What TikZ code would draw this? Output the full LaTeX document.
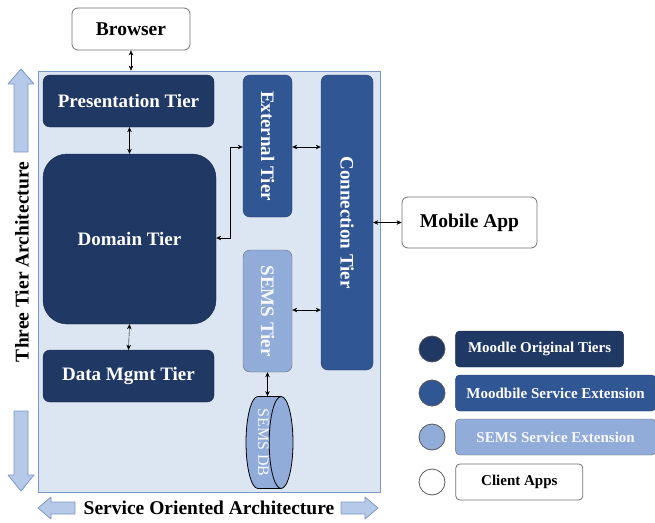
\documentclass[tikz,border=0pt]{standalone}
\usepackage{fontspec}
\setmainfont{Liberation Serif}
\usetikzlibrary{positioning}
\usetikzlibrary{shapes.geometric}
\usetikzlibrary{arrows.meta}

\definecolor{navy}{RGB}{32,56,100}
\definecolor{midblue}{RGB}{48,86,148}
\definecolor{lightblue}{RGB}{146,172,218}
\definecolor{panelbg}{RGB}{220,230,242}
\definecolor{panelline}{RGB}{122,152,200}
\definecolor{arrowbg}{RGB}{182,201,232}

\tikzset{
  tier/.style={draw=navy!70!black, fill=navy, text=white, rounded corners=7pt,
    font=\bfseries\fontsize{19}{21}\selectfont, inner sep=0pt},
  mbtier/.style={tier, draw=midblue!70!black, fill=midblue},
  semstier/.style={tier, draw=gray!80!black, fill=lightblue, text=white!92!lightblue},
  client/.style={draw=gray!90!black, fill=white, rounded corners=6pt,
    font=\bfseries\fontsize{19.5}{21}\selectfont, inner sep=0pt, thick},
  keybox/.style={rounded corners=4pt, inner sep=0pt, minimum height=36pt,
    font=\bfseries\fontsize{15}{17}\selectfont},
  keydot/.style={circle, draw=gray!70!black, thick, minimum size=26pt, inner sep=0pt},
  bigarrow/.style={draw=panelline, fill=arrowbg, thick, line join=round},
  link/.style={{Stealth[length=5pt,width=4.5pt]}-{Stealth[length=5pt,width=4.5pt]}, black}
}

\begin{document}
\begin{tikzpicture}[x=1pt, y=-1pt]
\useasboundingbox (0,0) rectangle (655,522);

\node[draw=panelline, fill=panelbg, thick, minimum width=342pt, minimum height=421pt,
  inner sep=0pt] (panel) at (209,281.5) {};

\node[client, minimum width=118pt, minimum height=42pt] (browser) at (131,29) {Browser};
\node[client, minimum width=135pt, minimum height=51pt] (mobile) at (469.5,222.5) {Mobile App};

\node[tier, minimum width=171pt, minimum height=52pt] (pres) at (128.5,101) {Presentation Tier};
\node[tier, rounded corners=24pt, minimum width=173pt, minimum height=170pt] (domain) at (129.5,239) {Domain Tier};
\node[tier, minimum width=171pt, minimum height=52pt] (data) at (128.5,376) {Data Mgmt Tier};

\node[mbtier, rotate=-90, minimum width=142pt, minimum height=49pt] (ext) at (267.5,146) {External Tier};
\node[mbtier, rotate=-90, minimum width=295pt, minimum height=52pt] (conn) at (347,222.5) {Connection Tier};
\node[semstier, rotate=-90, minimum width=122pt, minimum height=49pt] (sems) at (267.5,311) {SEMS Tier};
\node[cylinder, rotate=-90, shape border rotate=90, anchor=shape center, draw=black, thick,
  fill=lightblue, text=white!92!lightblue, font=\fontsize{16}{18}\selectfont, aspect=0.35,
  minimum width=92pt, minimum height=47pt, inner sep=0pt] (semsdb) at (269.5,442.5) {SEMS DB};

\draw[link] (browser.south) -- (browser.south |- panel.north);
\draw[link] (pres.south -| domain.north) -- (domain.north);
\draw[link] (domain.south) -- (data.north);
\draw[link] (domain.east |- 0,238) -- (230,238) -- (230,147) -- (ext.south |- 0,147);
\draw[link] (ext.north |- 0,147) -- (conn.south |- 0,147);
\draw[link] (sems.north |- 0,310) -- (conn.south |- 0,310);
\draw[link] (sems.east) -- (sems.east |- semsdb.before top);
\draw[link] (conn.north |- mobile.west) -- (mobile.west);

\draw[bigarrow] (14,152) -- (14,84) -- (8,84) -- (21,69) -- (34,84) -- (28,84) -- (28,152) -- cycle;
\draw[bigarrow] (14,411) -- (14,475) -- (8,475) -- (21,491) -- (34,475) -- (28,475) -- (28,411) -- cycle;
\node[rotate=90, font=\bfseries\fontsize{19.5}{21}\selectfont] (three) at (22,262) {Three Tier Architecture};
\draw[bigarrow] (75,502) -- (51,502) -- (51,497) -- (38,508) -- (51,519) -- (51,514) -- (75,514) -- cycle;
\draw[bigarrow] (341,502) -- (365,502) -- (365,497) -- (378,508) -- (365,519) -- (365,514) -- (341,514) -- cycle;
\node[font=\bfseries\fontsize{19.5}{21}\selectfont] (soa) at (209,508) {Service Oriented Architecture};

\node[keydot, fill=navy] (dot1) at (432,349) {};
\node[keydot, fill=midblue] (dot2) at (432,393) {};
\node[keydot, fill=lightblue] (dot3) at (432,437) {};
\node[keydot, fill=white] (dot4) at (432,482) {};
\node[keybox, fill=navy, draw=navy!70!black, text=white, minimum width=168pt, right=10pt of dot1] (key1) {Moodle Original Tiers};
\node[keybox, fill=midblue, draw=midblue!70!black, text=white, minimum width=200pt, right=10pt of dot2] (key2) {Moodbile Service Extension};
\node[keybox, fill=lightblue, draw=gray!80!black, text=white!92!lightblue, minimum width=200pt, right=10pt of dot3] (key3) {SEMS Service Extension};
\node[keybox, fill=white, draw=gray!90!black, thick, minimum width=127pt, right=10pt of dot4] (key4) {Client Apps};
\end{tikzpicture}
\end{document}
